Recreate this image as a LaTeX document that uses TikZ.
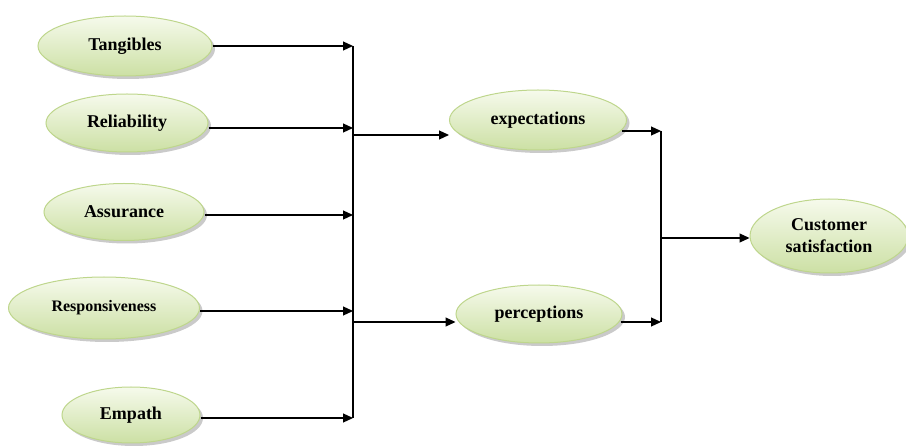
\documentclass[tikz,border=0pt]{standalone}
\usepackage{fontspec}
\setmainfont{Liberation Serif}
\usetikzlibrary{shapes.geometric,arrows.meta,shadows}
\definecolor{elltop}{RGB}{246,250,236}
\definecolor{ellbot}{RGB}{204,224,164}
\definecolor{elldraw}{RGB}{190,214,140}
\tikzset{
  oval/.style={ellipse, inner sep=0pt, draw=elldraw, line width=1pt,
    top color=elltop, bottom color=ellbot,
    drop shadow={shadow xshift=3pt, shadow yshift=-3pt, opacity=0.35, fill=black!60},
    font=\fontsize{18}{22}\selectfont\bfseries, align=center},
  link/.style={line width=1.2pt, black},
  arr/.style={link, -{Triangle[length=10pt,width=9pt]}}
}
\begin{document}
\begin{tikzpicture}[x=1pt,y=-1pt]
\useasboundingbox (0,0) rectangle (906,446);
% nodes
\node[oval, minimum width=174pt, minimum height=60pt] (tang) at (125,46) {Tangibles};
\node[oval, minimum width=162pt, minimum height=58pt] (rel) at (127,123) {Reliability};
\node[oval, minimum width=160pt, minimum height=57pt] (ass) at (124,212) {Assurance};
\node[oval, minimum width=191pt, minimum height=62pt, font=\fontsize{16}{19}\selectfont\bfseries] (resp) at (104,308) {Responsiveness};
\node[oval, minimum width=138pt, minimum height=56pt] (emp) at (131,415) {Empath};
\node[oval, minimum width=177pt, minimum height=60pt] (exp) at (538,120) {expectations};
\node[oval, minimum width=166pt, minimum height=58pt] (perc) at (539,314) {perceptions};
\node[oval, minimum width=158pt, minimum height=74pt] (sat) at (829,236) {Customer\\satisfaction};
% bus coordinates
\coordinate (bus) at (353,0);
\coordinate (bustop) at (353,46);
\coordinate (busbot) at (353,418);
\coordinate (bo1) at (353,135);
\coordinate (bo2) at (353,322);
\coordinate (c1) at (661,131);
\coordinate (c2) at (661,322);
\coordinate (cm) at (661,238);
% inputs
\draw[arr] (tang.east) -- (tang.east -| bus);
\draw[arr] ([yshift=-5pt]rel.east) -- ([yshift=-5pt]rel.east -| bus);
\draw[arr] ([yshift=-3pt]ass.east) -- ([yshift=-3pt]ass.east -| bus);
\draw[arr] ([yshift=-3pt]resp.east) -- ([yshift=-3pt]resp.east -| bus);
\draw[arr] ([yshift=-3pt]emp.east) -- ([yshift=-3pt]emp.east -| bus);
\draw[link] (bustop) -- (busbot);
% to middle
\draw[arr] (bo1) -- (exp.west |- bo1);
\draw[arr] (bo2) -- (perc.west |- bo2);
% to right
\draw[arr] ([xshift=-5pt]exp.east |- c1) -- (c1);
\draw[arr] ([xshift=-2pt]perc.east |- c2) -- (c2);
\draw[link] (c1) -- (c2);
\draw[arr] (cm) -- (sat.west |- cm);
\end{tikzpicture}
\end{document}
